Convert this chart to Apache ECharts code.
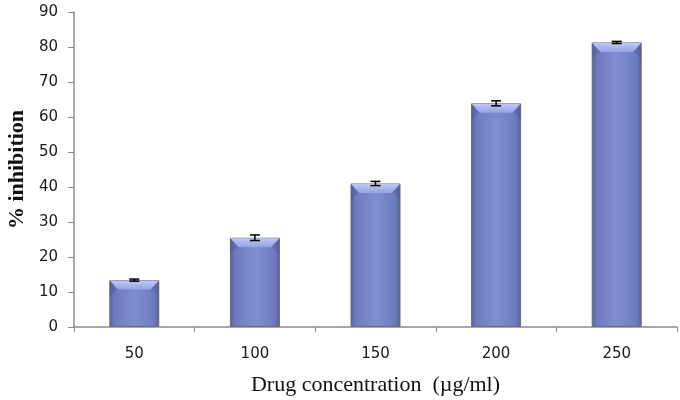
<!DOCTYPE html>
<html><head><meta charset="utf-8">
<script src="https://cdn.jsdelivr.net/npm/echarts@6/dist/echarts.min.js"></script>
<style>html,body{margin:0;padding:0;background:#fff}#c{width:680px;height:400px}</style>
</head><body><div id="c"></div>
<script>
const categories = ['50', '100', '150', '200', '250'];
const inhibition = [13.4, 25.5, 41.0, 63.9, 81.3];
const errors = [0.3, 0.8, 0.6, 0.7, 0.3];
const yTicks = [0, 10, 20, 30, 40, 50, 60, 70, 80, 90];

const chart = echarts.init(document.getElementById('c'));
const barGrad = new echarts.graphic.LinearGradient(0, 0, 1, 0, [
  {offset: 0, color: '#54609a'},
  {offset: 0.1, color: '#6c7bbd'},
  {offset: 0.5, color: '#7e8ecf'},
  {offset: 0.9, color: '#6c7bbd'},
  {offset: 1, color: '#54609a'}
]);
const BW = 50;
chart.setOption({
  animation: false,
  grid: {left: 74, right: 3, top: 12, bottom: 73, containLabel: false, outerBoundsMode: 'none'},
  xAxis: {
    type: 'category', data: categories,
    axisLine: {lineStyle: {color: '#8c8c8c', width: 1.5}},
    axisTick: {show: true, length: 5, lineStyle: {color: '#8c8c8c'}},
    axisLabel: {color: '#1a1a1a', fontFamily: 'DejaVu Sans', fontSize: 15, margin: 20},
    name: 'Drug concentration  (\u00b5g/ml)', nameLocation: 'middle', nameGap: 47,
    nameTextStyle: {fontFamily: 'Liberation Serif', fontSize: 22, color: '#111'}
  },
  yAxis: {
    type: 'value', min: 0, max: 90, interval: 10,
    axisLine: {show: true, lineStyle: {color: '#8c8c8c', width: 1.5}},
    axisTick: {show: true, length: 6, lineStyle: {color: '#8c8c8c'}},
    splitLine: {show: false},
    axisLabel: {color: '#1a1a1a', fontFamily: 'DejaVu Sans', fontSize: 15, margin: 16,
      formatter: v => yTicks.includes(v) ? String(v) : ''},
    name: '% inhibition', nameLocation: 'middle', nameGap: 45, nameRotate: 90,
    nameTextStyle: {fontFamily: 'Liberation Serif', fontSize: 22, fontWeight: 'bold', color: '#111'}
  },
  series: [
    {
      type: 'bar', data: inhibition, barWidth: BW,
      itemStyle: {color: barGrad, borderColor: '#6b6b7a', borderWidth: 1}
    },
    {
      type: 'custom',
      data: inhibition.map((v, i) => [i, v]),
      renderItem: function (params, api) {
        const top = api.coord([api.value(0), api.value(1)]);
        const x0 = top[0] - BW / 2 + 0.5, x1 = top[0] + BW / 2 - 0.5;
        const y0 = top[1] + 0.5, h = 9;
        return {
          type: 'group', children: [
            {type: 'polygon', shape: {points: [[x0, y0], [x1, y0], [x1 - 8, y0 + h], [x0 + 8, y0 + h]]},
              style: {fill: new echarts.graphic.LinearGradient(0, 0, 0, 1, [
                {offset: 0, color: '#bfc9f3'}, {offset: 1, color: '#92a2e3'}])}},
            {type: 'polygon', shape: {points: [[x0, y0], [x0 + 8, y0 + h], [x0, y0 + h + 6]]},
              style: {fill: 'rgba(70,80,140,0.3)'}},
            {type: 'polygon', shape: {points: [[x1, y0], [x1 - 8, y0 + h], [x1, y0 + h + 6]]},
              style: {fill: 'rgba(70,80,140,0.3)'}}
          ]
        };
      },
      z: 3
    },
    {
      type: 'custom',
      data: inhibition.map((v, i) => [i, v - errors[i], v + errors[i]]),
      renderItem: function (params, api) {
        const lo = api.coord([api.value(0), api.value(1)]);
        const hi = api.coord([api.value(0), api.value(2)]);
        const x = lo[0], w = 5;
        const st = {stroke: '#000', lineWidth: 1.5};
        return {
          type: 'group', children: [
            {type: 'line', shape: {x1: x, y1: lo[1], x2: x, y2: hi[1]}, style: st},
            {type: 'line', shape: {x1: x - w, y1: lo[1], x2: x + w, y2: lo[1]}, style: st},
            {type: 'line', shape: {x1: x - w, y1: hi[1], x2: x + w, y2: hi[1]}, style: st}
          ]
        };
      },
      z: 5
    }
  ]
});
</script></body></html>
